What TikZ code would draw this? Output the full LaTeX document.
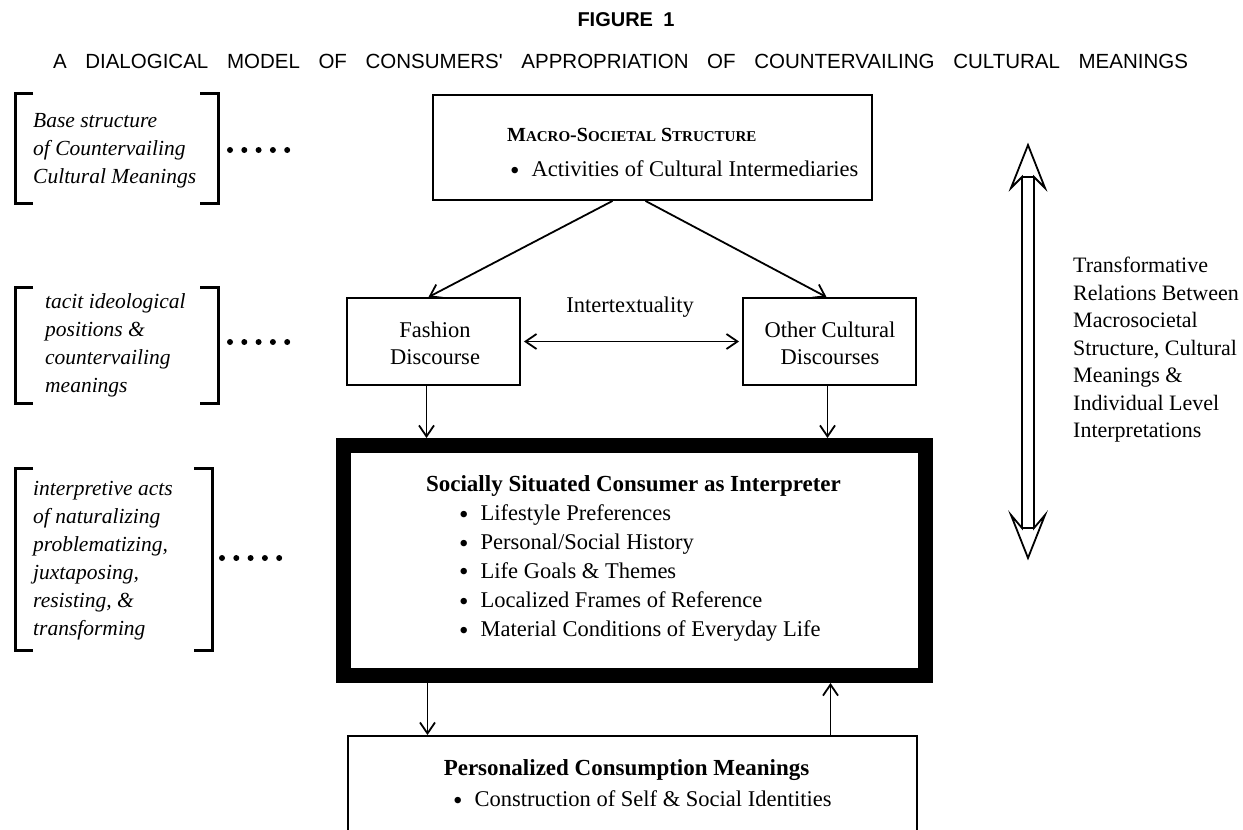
\documentclass[tikz,border=0pt]{standalone}
\usepackage{fontspec}
\setmainfont{Liberation Serif}
\newfontfamily\headfont{Liberation Sans}
\usetikzlibrary{arrows.meta}
\usetikzlibrary{positioning}

\newcommand{\fsc}[1]{{\fontsize{15}{18}\selectfont #1}}
\newcommand{\bul}{\raisebox{-2.5pt}{\fontsize{27}{28}\selectfont\textbullet}\hspace{12pt}}

\tikzset{
  box/.style={draw,line width=1.9pt,inner sep=0pt},
  arr/.style={line width=1.8pt,-{Straight Barb[length=11pt,width=15pt]}},
  brk/.style={line width=3pt},
  dots/.style={line width=6pt,line cap=round,dash pattern=on 0pt off 14.3pt},
  txt/.style={font=\fontsize{22.5}{28}\selectfont},
  bold/.style={font=\fontsize{23}{28}\selectfont\bfseries},
  side/.style={font=\fontsize{21.5}{28}\selectfont\itshape,align=left,anchor=west,inner sep=0pt},
}

\begin{document}
\begin{tikzpicture}[x=1pt,y=-1pt]
                    \useasboundingbox (0,0) rectangle (1243,830);
                    \node[font=\headfont\bfseries\fontsize{20}{22}\selectfont] (fig) at (626,20) {\makebox[97pt][s]{FIGURE 1}};
                    \node[font=\headfont\fontsize{20.5}{22}\selectfont] (caption) at (620.5,61) {\makebox[1135pt][s]{A DIALOGICAL MODEL OF CONSUMERS' APPROPRIATION OF COUNTERVAILING CULTURAL MEANINGS}};
                    % boxes
                    \node[box,minimum width=439pt,minimum height=105pt] (macro) at (652.5,147.5) {};
                    \node[box,minimum width=173pt,minimum height=87pt] (fashion) at (433.5,341.5) {};
                    \node[box,minimum width=173pt,minimum height=87pt] (other) at (829.5,341.5) {};
                    \node[box,line width=15pt,minimum width=582pt,minimum height=230pt] (consumer) at (634.5,560.5) {};
                    \node[box,minimum width=569pt,minimum height=98pt] (personal) at (632.5,785) {};
                    % box texts
                    \node[txt,anchor=west,inner sep=0pt] (macrotitle) at (507,135) {\bfseries\fontsize{20}{24}\selectfont M\fsc{ACRO}-S\fsc{OCIETAL} S\fsc{TRUCTURE}};
                    \node[txt,anchor=west,inner sep=0pt] (macroitem) at (510,170) {\bul Activities of Cultural Intermediaries};
                    \node[txt,align=center,font=\fontsize{22.5}{27}\selectfont] (fashiontext) at (435,343.5) {Fashion\\Discourse};
                    \node[txt,align=center,font=\fontsize{22.5}{27}\selectfont] (othertext) at (830,343.5) {Other Cultural\\Discourses};
                    \node[txt] (intertext) at (630,307) {Intertextuality};
                    \node[bold] (consumertitle) at (633.5,486) {Socially Situated Consumer as Interpreter};
                    \node[txt,anchor=west,align=left,inner sep=0pt,font=\fontsize{22.5}{29}\selectfont] (consumeritems) at (459,573) {\bul Lifestyle Preferences\\
                      \bul Personal/Social History\\
                      \bul Life Goals \& Themes\\
                      \bul Localized Frames of Reference\\
                      \bul Material Conditions of Everyday Life};
                    \node[bold] (personaltitle) at (626.5,770) {Personalized Consumption Meanings};
                    \node[txt,anchor=west,inner sep=0pt] (personalitem) at (453,800) {\bul Construction of Self \& Social Identities};
                    % connectors
                    \draw[arr] ([xshift=-40pt]macro.south) -- ([xshift=-5pt]fashion.north);
                    \draw[arr] ([xshift=-7pt]macro.south) -- ([xshift=-3pt]other.north);
                    \draw[line width=1.8pt,{Straight Barb[length=11pt,width=15pt]}-{Straight Barb[length=11pt,width=15pt]},shorten <=3pt,shorten >=3pt] (fashion.east) -- (other.west);
                    \draw[arr] ([xshift=-7pt]fashion.south) -- ([xshift=-7pt]fashion.south |- consumer.north);
                    \draw[arr] ([xshift=-2pt]other.south) -- ([xshift=-2pt]other.south |- consumer.north);
                    \draw[arr] ([xshift=-6pt]fashion.south |- consumer.south) -- ([xshift=-6pt]fashion.south |- personal.north);
                    \draw[arr] ([xshift=1pt]other.south |- personal.north) -- ([xshift=1pt]other.south |- consumer.south);
                    % left brackets
                    \node[side] (base) at (33,151) {Base structure\\of Countervailing\\Cultural Meanings};
                    \draw[brk] (33,93) -| (15,203) -- (33,203);
                    \draw[brk] (200,93) -| (218,203) -- (200,203);
                    \draw[dots] (230,150) -- (288,150);
                    \node[side] (tacit) at (45,345) {tacit ideological\\positions \&\\countervailing\\meanings};
                    \draw[brk] (33,287) -| (15,403) -- (33,403);
                    \draw[brk] (200,287) -| (218,403) -- (200,403);
                    \draw[dots] (230,342) -- (288,342);
                    \node[side] (acts) at (33,561) {interpretive acts\\of naturalizing\\problematizing,\\juxtaposing,\\resisting, \&\\transforming};
                    \draw[brk] (33,468) -| (15,650) -- (33,650);
                    \draw[brk] (194,468) -| (212,650) -- (194,650);
                    \draw[dots] (222,558) -- (280,558);
                    % right double arrow
                    \coordinate (tup) at (1028,145);
                    \coordinate (tdown) at (1028,558);
                    \draw[line width=1.8pt,line join=miter] (tup) -- (1045,188) -- (1034,177) -- (1034,528) -- (1045,515) -- (tdown) -- (1011,515) -- (1022,528) -- (1022,177) -- (1011,188) -- cycle;
                    \draw[line width=1.8pt] (1022,177) -- (1034,177) (1022,528) -- (1034,528);
                    \node[txt,anchor=west,align=left,inner sep=0pt,font=\fontsize{22}{27.5}\selectfont] (relations) at (1073,350) {Transformative\\Relations Between\\Macrosocietal\\Structure, Cultural\\Meanings \&\\Individual Level\\Interpretations};
                \end{tikzpicture}
\end{document}
